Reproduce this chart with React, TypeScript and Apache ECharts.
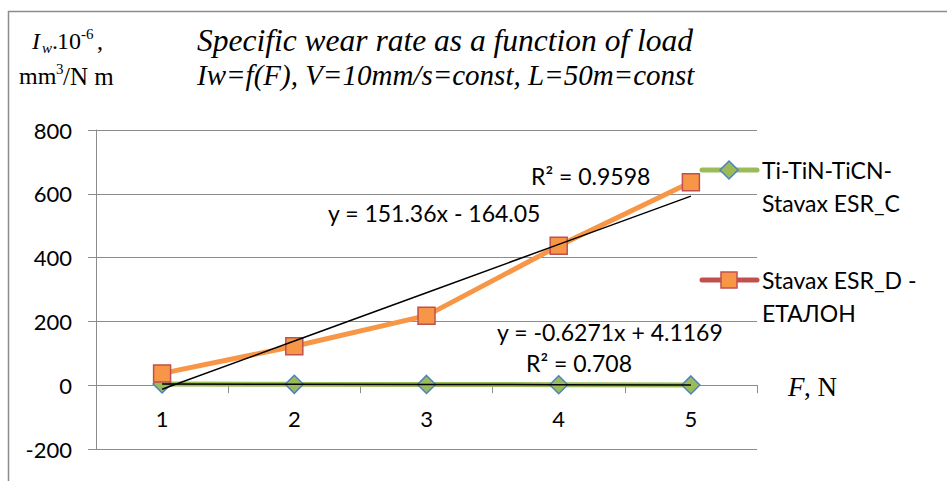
import React, { useEffect, useRef } from "react";
import * as echarts from "echarts";

// Load steps F, N
const categories = ["1", "2", "3", "4", "5"];
// Specific wear rate Iw·10^-6, mm³/N m
const coatedWear = [3.6, 2.7, 2.4, 1.6, 0.9];
const referenceWear = [37, 122, 218, 437, 636];
const seriesNames = ["Ti-TiN-TiCN-\nStavax ESR_C", "Stavax ESR_D -\nЕТАЛОН"];

// Linear trendlines (Excel-style least squares) with their published coefficients
const coatedFit = { slope: -0.6271, intercept: 4.1169, r2: "0.708" };
const referenceFit = { slope: 151.36, intercept: -164.05, r2: "0.9598" };

const yMin = -200;
const yMax = 800;
const yStep = 200;

const GREEN = "#9BBB59";
const BLUE = "#4F81BD";
const ORANGE = "#F79646";
const RED = "#C0504D";
const GRID = "#8C8C8C";
const SANS = "Lato, 'Noto Sans', sans-serif";
const SERIF = "'Liberation Serif', 'Times New Roman', serif";

const PLOT = { left: 96, top: 130, width: 661, height: 319 };
// the category axis crosses the value axis at 0
const zeroOffset = -((0 - yMin) / (yMax - yMin)) * PLOT.height;

const trend = (fit: { slope: number; intercept: number }) =>
  categories.map((c) => +(fit.slope * Number(c) + fit.intercept).toFixed(3));

const fmtEq = (fit: { slope: number; intercept: number }) =>
  `y = ${fit.slope}x ${fit.intercept < 0 ? "-" : "+"} ${Math.abs(fit.intercept)}`;

export default function App() {
  const ref = useRef<HTMLDivElement>(null);

  useEffect(() => {
    if (!ref.current) return;
    const chart = echarts.init(ref.current, undefined, { renderer: "svg" });

    const txt = (
      text: string,
      x: number,
      y: number,
      size: number,
      family = SANS,
      style: string = "normal",
      align: string = "left"
    ) => ({
      type: "text",
      x,
      y,
      z: 10,
      style: {
        text,
        fontSize: size,
        fontFamily: family,
        fontStyle: style,
        fill: "#000",
        textAlign: align,
        textVerticalAlign: "middle",
      },
    });

    chart.setOption({
      animation: false,
      backgroundColor: "#fff",
      grid: { ...PLOT, containLabel: false, outerBoundsMode: "none" },
      xAxis: {
        type: "category",
        data: categories,
        boundaryGap: true,
        position: "bottom",
        offset: zeroOffset,
        axisLine: { onZero: false, lineStyle: { color: GRID, width: 1 } },
        axisTick: { show: true, length: 8, lineStyle: { color: GRID } },
        axisLabel: { color: "#000", fontFamily: SANS, fontSize: 22, margin: 22 },
        splitLine: { show: false },
      },
      yAxis: {
        type: "value",
        min: yMin,
        max: yMax,
        interval: yStep,
        axisLine: { show: true, lineStyle: { color: GRID, width: 1 } },
        axisTick: { show: true, length: 8, lineStyle: { color: GRID } },
        axisLabel: { color: "#000", fontFamily: SANS, fontSize: 22, margin: 24 },
        splitLine: { show: true, lineStyle: { color: GRID, width: 1 } },
      },
      series: [
        {
          name: seriesNames[0],
          type: "line",
          data: coatedWear,
          symbol: "diamond",
          symbolSize: 18,
          lineStyle: { color: GREEN, width: 5 },
          itemStyle: { color: GREEN, borderColor: BLUE, borderWidth: 1.5 },
          z: 2,
        },
        {
          name: seriesNames[1],
          type: "line",
          data: referenceWear,
          symbol: "rect",
          symbolSize: 17,
          lineStyle: { color: ORANGE, width: 5 },
          itemStyle: { color: ORANGE, borderColor: RED, borderWidth: 1.5 },
          z: 4,
        },
        {
          name: "coated-trend",
          type: "line",
          data: trend(coatedFit),
          symbol: "none",
          lineStyle: { color: "#000", width: 1.5 },
          z: 3,
        },
        {
          name: "reference-trend",
          type: "line",
          data: trend(referenceFit),
          symbol: "none",
          lineStyle: { color: "#000", width: 1.5 },
          z: 5,
        },
      ],
      graphic: [
        // chart frame
        { type: "line", shape: { x1: 8, y1: 11.5, x2: 947, y2: 11.5 }, style: { stroke: GRID, lineWidth: 1.5 } },
        { type: "line", shape: { x1: 8.5, y1: 11, x2: 8.5, y2: 481 }, style: { stroke: GRID, lineWidth: 1.5 } },

        // title
        txt("Specific wear rate as a function of load", 197, 40, 31.5, SERIF, "italic"),
        txt("Iw=f(F), V=10mm/s=const, L=50m=const", 197, 75, 29, SERIF, "italic"),

        // y axis name: Iw.10^-6, mm³/N m
        txt("I", 32, 41, 24, SERIF, "italic"),
        txt("w", 42, 48, 15, SERIF, "italic"),
        txt(".", 52, 41, 24, SERIF),
        txt("10", 57, 41, 24, SERIF),
        txt("-6", 81, 34, 15, SERIF),
        txt(",", 97, 41, 24, SERIF),
        txt("mm", 19, 76, 24, SERIF),
        txt("3", 56, 69, 15, SERIF),
        txt("/N m", 63, 76, 25, SERIF),

        // x axis name: F, N
        txt("F", 788, 387, 27, SERIF, "italic"),
        txt(", N", 804, 387, 27, SERIF),

        // trendline equations
        txt(`R² = ${referenceFit.r2}`, 531, 176, 23),
        txt(fmtEq(referenceFit), 328, 213, 23),
        txt(fmtEq(coatedFit), 497, 332, 23),
        txt(`R² = ${coatedFit.r2}`, 526, 363, 23),

        // legend
        { type: "line", shape: { x1: 702, y1: 170, x2: 757, y2: 170 }, style: { stroke: GREEN, lineWidth: 5, lineCap: "round" } },
        {
          type: "polygon",
          shape: { points: [[729, 161], [738, 170], [729, 179], [720, 170]] },
          style: { fill: GREEN, stroke: BLUE, lineWidth: 1.5 },
        },
        txt("Ti-TiN-TiCN-", 762, 170, 23),
        txt("Stavax ESR_C", 762, 203, 23),
        { type: "line", shape: { x1: 702, y1: 280, x2: 757, y2: 280 }, style: { stroke: RED, lineWidth: 5, lineCap: "round" } },
        { type: "rect", shape: { x: 721, y: 272, width: 16, height: 16 }, style: { fill: ORANGE, stroke: RED, lineWidth: 1.5 } },
        txt("Stavax ESR_D -", 762, 280, 23),
        txt("ЕТАЛОН", 762, 313, 23),
      ],
    });

    return () => chart.dispose();
  }, []);

  return (
    <div
      ref={ref}
      style={{ position: "fixed", left: 0, top: 0, width: 947, height: 481, background: "#fff" }}
    />
  );
}
